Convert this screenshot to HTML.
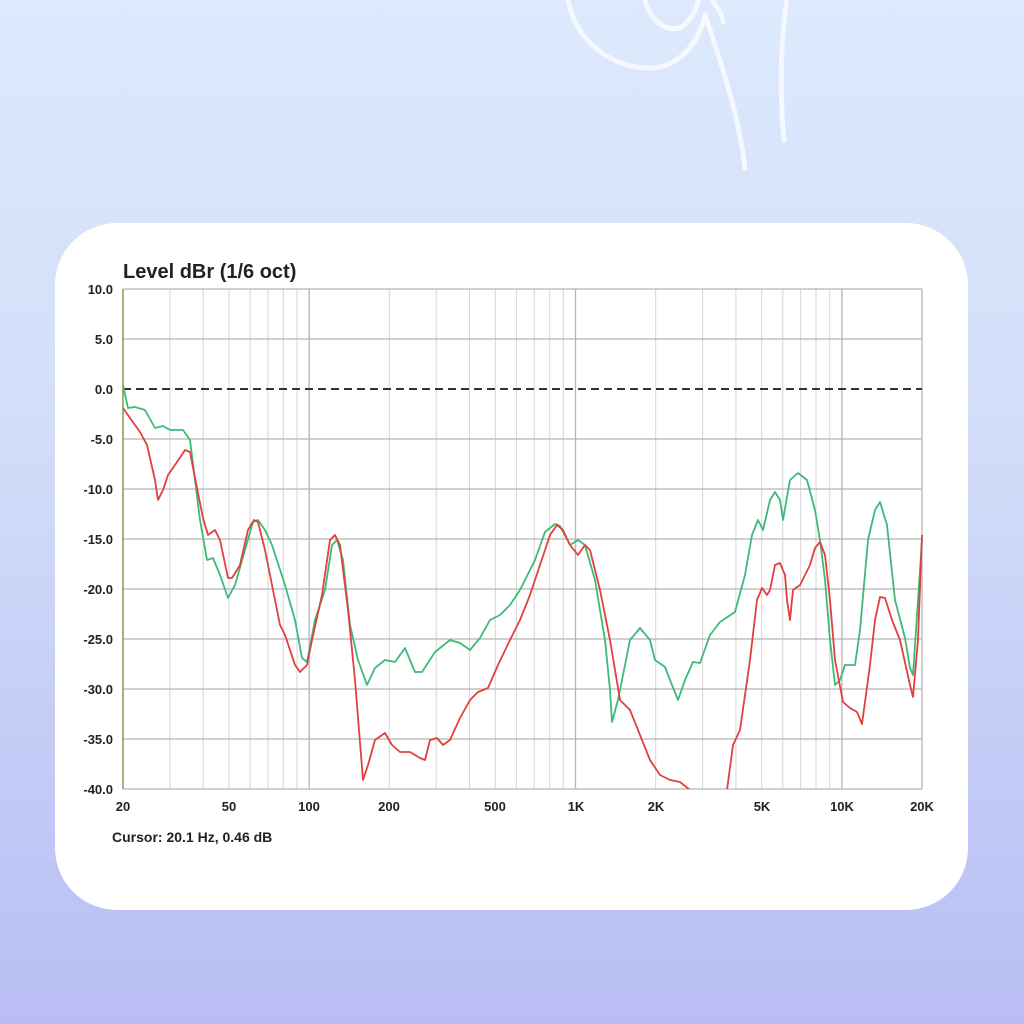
<!DOCTYPE html>
<html><head><meta charset="utf-8"><style>
html,body{margin:0;padding:0;width:1024px;height:1024px;overflow:hidden}
body{background:linear-gradient(180deg,#dde9fc 0%,#d3def9 40%,#c3cbf6 75%,#b9bdf4 100%);font-family:"Liberation Sans",sans-serif}
</style></head><body>
<svg width="1024" height="1024" viewBox="0 0 1024 1024" style="position:absolute;left:0;top:0">
<g fill="none" stroke="#f4f8ff" stroke-width="5" stroke-linecap="round">
<path d="M568,0 C575,40 610,68 650,68 C680,68 700,40 705,15"/>
<path d="M645,0 C650,20 665,32 680,28 C690,22 695,12 698,2"/>
<path d="M705,15 C720,60 738,110 745,168"/>
<path d="M787,0 C780,40 780,100 784,140"/>
<path d="M712,0 C718,8 722,14 723,22"/>
</g>
<rect x="55" y="223" width="913" height="687" rx="62" fill="#ffffff"/>
<text x="123" y="278" font-size="20" font-weight="bold" fill="#222">Level dBr (1/6 oct)</text>
<g stroke="#d6d6d6" stroke-width="1">
<line x1="169.9" y1="289" x2="169.9" y2="789"/><line x1="203.2" y1="289" x2="203.2" y2="789"/><line x1="229" y1="289" x2="229" y2="789"/><line x1="250.1" y1="289" x2="250.1" y2="789"/><line x1="267.9" y1="289" x2="267.9" y2="789"/><line x1="283.3" y1="289" x2="283.3" y2="789"/><line x1="297" y1="289" x2="297" y2="789"/>
<line x1="389.3" y1="289" x2="389.3" y2="789"/><line x1="436.2" y1="289" x2="436.2" y2="789"/><line x1="469.5" y1="289" x2="469.5" y2="789"/><line x1="495.3" y1="289" x2="495.3" y2="789"/><line x1="516.4" y1="289" x2="516.4" y2="789"/><line x1="534.2" y1="289" x2="534.2" y2="789"/><line x1="549.7" y1="289" x2="549.7" y2="789"/><line x1="563.3" y1="289" x2="563.3" y2="789"/>
<line x1="655.7" y1="289" x2="655.7" y2="789"/><line x1="702.6" y1="289" x2="702.6" y2="789"/><line x1="735.9" y1="289" x2="735.9" y2="789"/><line x1="761.7" y1="289" x2="761.7" y2="789"/><line x1="782.8" y1="289" x2="782.8" y2="789"/><line x1="800.6" y1="289" x2="800.6" y2="789"/><line x1="816" y1="289" x2="816" y2="789"/><line x1="829.7" y1="289" x2="829.7" y2="789"/>
</g>
<g stroke="#b5b5b5" stroke-width="1.3">
<line x1="309.2" y1="289" x2="309.2" y2="789"/><line x1="575.5" y1="289" x2="575.5" y2="789"/><line x1="841.9" y1="289" x2="841.9" y2="789"/><line x1="922" y1="289" x2="922" y2="789"/>
<line x1="123" y1="289" x2="922" y2="289"/><line x1="123" y1="339" x2="922" y2="339"/><line x1="123" y1="439" x2="922" y2="439"/><line x1="123" y1="489" x2="922" y2="489"/><line x1="123" y1="539" x2="922" y2="539"/><line x1="123" y1="589" x2="922" y2="589"/><line x1="123" y1="639" x2="922" y2="639"/><line x1="123" y1="689" x2="922" y2="689"/><line x1="123" y1="739" x2="922" y2="739"/><line x1="123" y1="789" x2="922" y2="789"/>
</g>
<line x1="123" y1="289" x2="123" y2="789" stroke="#8a9a50" stroke-width="1.5"/>
<line x1="123" y1="389" x2="922" y2="389" stroke="#333" stroke-width="2" stroke-dasharray="8,5"/>
<defs><clipPath id="c"><rect x="123" y="289" width="800" height="500"/></clipPath></defs>
<g clip-path="url(#c)" fill="none" stroke-width="1.8" stroke-linejoin="round">
<polyline stroke="#3dba7a" points="123,385 128,408 135,407 145,410 155,428 163,426 170,430 183,430 190,440 200,520 207,560 213,558 220,575 228,598 235,585 245,550 253,522 258,520 265,530 272,545 285,585 295,620 302,658 307,662 315,620 325,590 332,545 337,540 343,560 350,625 358,660 367,685 375,668 385,660 395,662 405,648 415,672 422,672 435,652 450,640 460,643 470,650 480,638 490,620 500,615 510,605 520,590 535,560 545,532 555,524 560,526 570,545 578,540 585,545 595,580 605,640 610,690 612,722 618,700 630,640 640,628 650,640 655,660 665,667 670,680 678,700 685,680 693,662 700,663 710,635 720,622 735,612 745,575 752,535 758,520 763,530 770,500 775,492 780,500 783,520 790,480 798,473 807,480 815,510 820,540 825,580 830,640 835,685 840,680 845,665 855,665 860,630 868,540 875,510 880,502 887,525 895,600 905,638 910,668 913,675 918,600 922,540"/>
<polyline stroke="#e0403e" points="123,408 130,418 140,432 147,445 155,480 158,500 163,490 168,475 175,465 185,450 190,452 195,478 203,518 208,535 215,530 220,540 228,578 232,578 240,565 248,530 254,520 258,522 265,550 275,600 280,625 285,635 295,665 300,672 307,665 312,640 322,595 330,540 335,535 340,545 348,610 355,680 363,780 368,765 375,740 385,733 392,745 400,752 410,752 420,758 425,760 430,740 437,738 443,745 450,740 460,718 470,700 478,692 488,688 498,665 510,640 520,620 530,595 540,565 550,535 557,525 563,530 570,545 578,555 585,545 590,550 600,590 610,640 620,700 630,710 640,735 650,760 660,775 670,780 680,782 690,790 700,800 720,810 727,790 733,745 740,730 750,660 757,600 762,588 767,595 770,590 775,565 780,563 785,575 787,600 790,620 793,590 800,585 810,565 815,548 820,542 825,555 830,600 835,660 843,702 850,708 857,712 862,724 870,665 875,620 880,597 885,598 892,620 900,640 910,685 913,697 918,640 922,535"/>
</g>
<g font-size="13" font-weight="bold" fill="#222" text-anchor="end">
<text x="113" y="294">10.0</text><text x="113" y="344">5.0</text><text x="113" y="394">0.0</text><text x="113" y="494">-10.0</text><text x="113" y="544">-15.0</text><text x="113" y="594">-20.0</text><text x="113" y="644">-25.0</text><text x="113" y="694">-30.0</text><text x="113" y="744">-35.0</text><text x="113" y="794">-40.0</text>
<text x="113" y="444">-5.0</text>
</g>
<g font-size="13" font-weight="bold" fill="#222" text-anchor="middle">
<text x="123" y="811">20</text><text x="229" y="811">50</text><text x="309" y="811">100</text><text x="389" y="811">200</text><text x="495" y="811">500</text><text x="576" y="811">1K</text><text x="656" y="811">2K</text><text x="762" y="811">5K</text><text x="842" y="811">10K</text><text x="922" y="811">20K</text>
</g>
<text x="112" y="842" font-size="14" font-weight="bold" fill="#222">Cursor: 20.1 Hz, 0.46 dB</text>
</svg>
</body></html>
